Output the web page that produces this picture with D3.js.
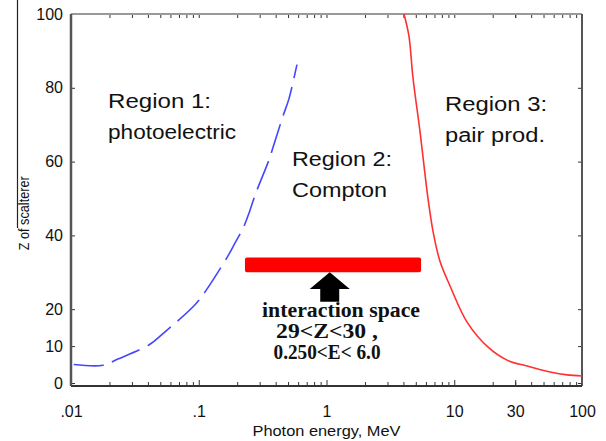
<!DOCTYPE html>
<html>
<head>
<meta charset="utf-8">
<script src="https://cdn.jsdelivr.net/npm/d3@7"></script>
<style>
  body { margin: 0; background: #fff; }
</style>
</head>
<body>
<div id="chart"></div>
<script>
// axis ticks
var energyTicks = [0.01, 0.1, 1, 10, 30, 100];
var energyTickLabels = [".01", ".1", "1", "10", "30", "100"];
var zTicks = [0, 10, 20, 40, 60, 80, 100];
var zTickLabels = ["0", "10", "20", "40", "60", "80", "100"];

// region 1 / region 2 boundary (blue, dashed)
var photoE = [0.0105, 0.0178, 0.0233, 0.0415, 0.0525, 0.0935, 0.112, 0.169, 0.192, 0.226, 0.250, 0.280, 0.355, 0.381, 0.456, 0.508, 0.587];
var photoZ = [5.0, 4.8, 6.5, 10.5, 13.4, 21.2, 24.7, 34.4, 37.9, 42.5, 46.5, 51.5, 60.5, 63.8, 72.3, 77.0, 86.3];

// region 2 / region 3 boundary (red)
var pairE = [4.04, 4.42, 4.75, 5.40, 6.23, 6.82, 7.73, 9.27, 12.6, 18.4, 25.9, 37.1, 56.2, 76.4, 100];
var pairZ = [100, 94.0, 82.8, 68.0, 50.0, 41.1, 33.0, 26.3, 16.5, 9.7, 6.2, 4.6, 3.0, 2.2, 1.9];

// interaction space bar and arrow
var spaceE = [0.23, 5.5];
var spaceZ = [30, 34];
var arrowE = 1.06;
var arrowZ = [22, 25.5, 30]; // shaft end, head base, tip

// region labels: [E, Z] of first line, then lines
var regionLabels = [
  {e: 0.0195, z: 74.5, lines: ["Region 1:", "photoelectric"], widths: [103, 128]},
  {e: 0.537, z: 58.9, lines: ["Region 2:", "Compton"], widths: [100, 95]},
  {e: 8.47, z: 73.7, lines: ["Region 3:", "pair prod."], widths: [102, 100]}
];
var spaceLabelE = [1.30, 1.01, 1.01];
var spaceLabelZ = [17.8, 12.2, 6.6];
var spaceLabels = ["interaction space", "29<Z<30 ,", "0.250<E< 6.0"];
var spaceLabelWidths = [158, 102, 107];

var sans = "'Liberation Sans', Arial, Helvetica, sans-serif";
var serif = "'Liberation Serif', 'Times New Roman', serif";

// set the dimensions and margins of the graph
var margin = {top: 14, right: 24, bottom: 55, left: 71},
    width = 606 - margin.left - margin.right,
    height = 441 - margin.top - margin.bottom;

var svg = d3.select("#chart")
  .append("svg")
  .attr("width", 606)
  .attr("height", 441)
  .append("g")
  .attr("transform", "translate(" + margin.left + "," + margin.top + ")");

var x = d3.scaleLog().domain([0.01, 100]).range([0, width]);
var y = d3.scaleLinear().domain([0, 100]).range([height - 3, 0]);

// minor ticks 2..9 in each decade
var minorTicks = [];
[0.01, 0.1, 1, 10].forEach(function(dec) {
  for (var k = 2; k <= 9; k++) minorTicks.push(dec * k);
});

function styleAxis(g) {
  g.select(".domain").remove();
  g.selectAll("line").attr("stroke", "#333").attr("stroke-width", 1);
  g.selectAll("text").attr("font-size", 16).attr("fill", "#111")
    .style("font-family", sans);
}

// bottom ticks (inward)
svg.append("g")
  .attr("transform", "translate(0," + height + ")")
  .call(d3.axisBottom(x).tickValues(minorTicks).tickSize(-4).tickFormat(""))
  .call(styleAxis);
svg.append("g")
  .attr("transform", "translate(0," + height + ")")
  .call(d3.axisBottom(x).tickValues(energyTicks).tickSize(-6).tickPadding(20)
    .tickFormat(function(d, i) { return energyTickLabels[i]; }))
  .call(styleAxis);

// top ticks (inward)
svg.append("g")
  .call(d3.axisTop(x).tickValues(minorTicks.concat(energyTicks)).tickSize(-4).tickFormat(""))
  .call(styleAxis);

// left axis
svg.append("g")
  .call(d3.axisLeft(y).tickValues(zTicks).tickSize(-4).tickPadding(8)
    .tickFormat(function(d, i) { return zTickLabels[i]; }))
  .call(styleAxis);

// right ticks
svg.append("g")
  .attr("transform", "translate(" + width + ",0)")
  .call(d3.axisRight(y).tickValues(zTicks).tickSize(-4).tickFormat(""))
  .call(styleAxis);

// frame
svg.append("line").attr("x1", 0).attr("x2", width).attr("y1", 0).attr("y2", 0)
  .attr("stroke", "#999").attr("stroke-width", 2);
svg.append("line").attr("x1", width).attr("x2", width).attr("y1", 0).attr("y2", height)
  .attr("stroke", "#555").attr("stroke-width", 2);
svg.append("line").attr("x1", 0).attr("x2", width).attr("y1", height).attr("y2", height)
  .attr("stroke", "#333").attr("stroke-width", 2);
svg.append("line").attr("x1", 0).attr("x2", 0).attr("y1", 0).attr("y2", height)
  .attr("stroke", "#555").attr("stroke-width", 2.5);

// axis titles
svg.append("text")
  .attr("x", x(1))
  .attr("y", height + 50)
  .attr("text-anchor", "middle")
  .attr("font-size", 14)
  .attr("fill", "#111")
  .style("font-family", sans)
  .attr("textLength", 148)
  .attr("lengthAdjust", "spacingAndGlyphs")
  .text("Photon energy, MeV");

svg.append("text")
  .attr("transform", "translate(" + (-42) + "," + y(46) + ") rotate(-90)")
  .attr("text-anchor", "middle")
  .attr("font-size", 14)
  .attr("fill", "#111")
  .style("font-family", sans)
  .attr("textLength", 74)
  .attr("lengthAdjust", "spacingAndGlyphs")
  .text("Z of scalterer");
svg.append("line")
  .attr("x1", -53.5).attr("x2", -53.5).attr("y1", -margin.top).attr("y2", y(42))
  .attr("stroke", "#222").attr("stroke-width", 1.2);

// curves
var line = d3.line()
  .x(function(d) { return x(d[0]); })
  .y(function(d) { return y(d[1]); })
  .curve(d3.curveCatmullRom.alpha(0.5));

svg.append("path")
  .datum(d3.zip(photoE, photoZ))
  .attr("fill", "none")
  .attr("stroke", "#4646ff")
  .attr("stroke-width", 1.6)
  .attr("stroke-dasharray", "30,9")
  .attr("d", line);

svg.append("path")
  .datum(d3.zip(pairE, pairZ))
  .attr("fill", "none")
  .attr("stroke", "#ff3030")
  .attr("stroke-width", 1.6)
  .attr("d", line);

// interaction space bar
svg.append("rect")
  .attr("x", x(spaceE[0]))
  .attr("y", y(spaceZ[1]))
  .attr("width", x(spaceE[1]) - x(spaceE[0]))
  .attr("height", y(spaceZ[0]) - y(spaceZ[1]))
  .attr("rx", 2)
  .attr("fill", "#ff0000");

// arrow
var ax = x(arrowE);
svg.append("polygon")
  .attr("points", [
    [ax, y(arrowZ[2])],
    [ax + 20, y(arrowZ[1])],
    [ax + 9.5, y(arrowZ[1])],
    [ax + 9.5, y(arrowZ[0])],
    [ax - 9.5, y(arrowZ[0])],
    [ax - 9.5, y(arrowZ[1])],
    [ax - 20, y(arrowZ[1])]
  ].map(function(p) { return p.join(","); }).join(" "))
  .attr("fill", "#000");

// region labels
regionLabels.forEach(function(r) {
  r.lines.forEach(function(t, i) {
    svg.append("text")
      .attr("x", x(r.e))
      .attr("y", y(r.z) + i * 31)
      .attr("font-size", 20)
      .attr("fill", "#111")
      .style("font-family", sans)
      .attr("textLength", r.widths[i])
      .attr("lengthAdjust", "spacingAndGlyphs")
      .text(t);
  });
});

spaceLabels.forEach(function(t, i) {
  svg.append("text")
    .attr("x", x(spaceLabelE[i]))
    .attr("y", y(spaceLabelZ[i]))
    .attr("text-anchor", "middle")
    .style("font-family", serif)
    .attr("font-weight", "bold")
    .attr("font-size", 20)
    .attr("fill", "#111")
    .attr("textLength", spaceLabelWidths[i])
    .attr("lengthAdjust", "spacingAndGlyphs")
    .text(t);
});
</script>
</body>
</html>
